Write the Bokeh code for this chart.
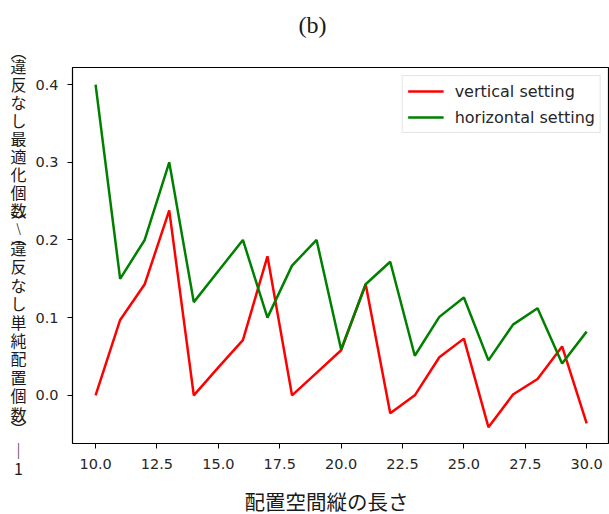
from bokeh.plotting import figure
from bokeh.models import Range1d, FixedTicker, Legend, LegendItem
from bokeh.layouts import row, column
from bokeh.core.properties import value
from bokeh.embed import file_html
from bokeh.resources import INLINE

x_len = list(range(10, 31))
vertical = [0.0, 0.097, 0.143, 0.238, 0.0, 0.036, 0.071, 0.179, 0.0, 0.029, 0.058,
            0.143, -0.023, 0.0, 0.049, 0.073, -0.041, 0.001, 0.021, 0.063, -0.036]
horizontal = [0.4, 0.15, 0.2, 0.3, 0.12, 0.16, 0.2, 0.1, 0.167, 0.2, 0.059,
              0.143, 0.172, 0.051, 0.101, 0.126, 0.045, 0.091, 0.112, 0.041, 0.082]
x_ticks = [10, 12.5, 15, 17.5, 20, 22.5, 25, 27.5, 30]
x_tick_labels = ["10.0", "12.5", "15.0", "17.5", "20.0", "22.5", "25.0", "27.5", "30.0"]
y_ticks = [0.0, 0.1, 0.2, 0.3, 0.4]
y_tick_labels = ["0.0", "0.1", "0.2", "0.3", "0.4"]
series_names = ["vertical setting", "horizontal setting"]
title_text = "(b)"
xlabel_text = "配置空間縦の長さ"

ylabel_chars = ["︵", "違", "反", "な", "し", "最", "適", "化", "個", "数", "︶", "︵",
                "違", "反", "な", "し", "単", "純", "配", "置", "個", "数", "︶", "｜", "1"]
ylabel_pos = [50, 65, 83, 101, 119, 137, 155, 173, 191, 209, 219, 236,
              247, 265, 284, 302, 321, 339, 357, 376, 394, 413, 427, 449, 468]
slash_char = ["\\"]
slash_pos = [227]

CJK = "Noto Sans CJK JP"
TOP_H = 40
BOT_H = 34
LAB_W = 30
FRAME_L = 72
W, H = 609, 514


def blank(width, height, xr, yr):
    f = figure(width=width, height=height, output_backend="svg", toolbar_location=None,
               x_range=xr, y_range=yr, x_axis_location=None, y_axis_location=None,
               min_border=0)
    f.outline_line_color = None
    f.grid.visible = False
    f.background_fill_color = "white"
    f.border_fill_color = "white"
    return f


# vertical y-axis title strip (full height, page coordinates)
lab = blank(LAB_W, H, Range1d(0, LAB_W), Range1d(H, 0))
lab.text(x=[18] * len(ylabel_chars), y=ylabel_pos, text=ylabel_chars,
         text_font=value(CJK), text_font_size=value("16px"), text_align="center",
         text_baseline="middle", text_color="#1a1a1a")
lab.text(x=[18], y=slash_pos, text=slash_char,
         text_font=value(CJK), text_font_size=value("12px"), text_align="center",
         text_baseline="middle", text_color="#1a1a1a")

# title strip (its frame is aligned with the main frame, page x 72..609)
top = blank(W - LAB_W, TOP_H, Range1d(FRAME_L, W), Range1d(TOP_H, 0))
top.text(x=[312], y=[24], text=[title_text], text_font=value("Liberation Serif"),
         text_font_size=value("24px"), text_align="center", text_baseline="middle",
         text_color="#1a1a1a")

# x-axis title strip
bot = blank(W - LAB_W, BOT_H, Range1d(FRAME_L, W), Range1d(BOT_H, 0))
bot.text(x=[326], y=[20], text=[xlabel_text], text_font=value(CJK),
         text_font_size=value("20.5px"), text_align="center", text_baseline="middle",
         text_color="#1a1a1a")

p = figure(width=W - LAB_W, height=H - TOP_H - BOT_H, output_backend="svg",
           toolbar_location=None,
           x_range=Range1d(9.06, 30.93), y_range=Range1d(-0.062, 0.422),
           min_border_left=FRAME_L - LAB_W, min_border_right=0, min_border_top=67 - TOP_H,
           min_border_bottom=(H - BOT_H) - 443)
p.background_fill_color = "white"
p.border_fill_color = "white"
p.grid.visible = False
p.outline_line_color = "black"
p.outline_line_width = 1.2

for ax in (p.xaxis[0], p.yaxis[0]):
    ax.axis_line_color = None
    ax.major_tick_line_color = "black"
    ax.major_tick_out = 5
    ax.major_tick_in = 0
    ax.minor_tick_line_color = None
    ax.major_label_text_font = "DejaVu Sans"
    ax.major_label_text_font_size = "14.5px"
    ax.major_label_text_color = "#262626"

p.xaxis.ticker = FixedTicker(ticks=x_ticks)
p.xaxis.major_label_overrides = {t: l for t, l in zip(x_ticks, x_tick_labels)}
p.yaxis.ticker = FixedTicker(ticks=y_ticks)
p.yaxis.major_label_overrides = {t: l for t, l in zip(y_ticks, y_tick_labels)}
p.xaxis.major_label_standoff = 10
p.yaxis.major_label_standoff = 9

r1 = p.line(x_len, vertical, line_color="#ff0000", line_width=2.5)
r2 = p.line(x_len, horizontal, line_color="#008000", line_width=2.5)

legend = Legend(items=[LegendItem(label=series_names[0], renderers=[r1]),
                       LegendItem(label=series_names[1], renderers=[r2])],
                location="top_right")
legend.margin = 8
legend.padding = 5
legend.spacing = 6
legend.glyph_width = 36
legend.glyph_height = 20
legend.label_standoff = 11
legend.label_text_font = "DejaVu Sans"
legend.label_text_font_size = "16px"
legend.label_text_color = "#262626"
legend.border_line_color = "#cccccc"
legend.border_line_width = 1
legend.background_fill_alpha = 0.8
p.add_layout(legend, "center")

layout = row(lab, column(top, p, bot))

open("out.html", "w").write(file_html(layout, INLINE))
